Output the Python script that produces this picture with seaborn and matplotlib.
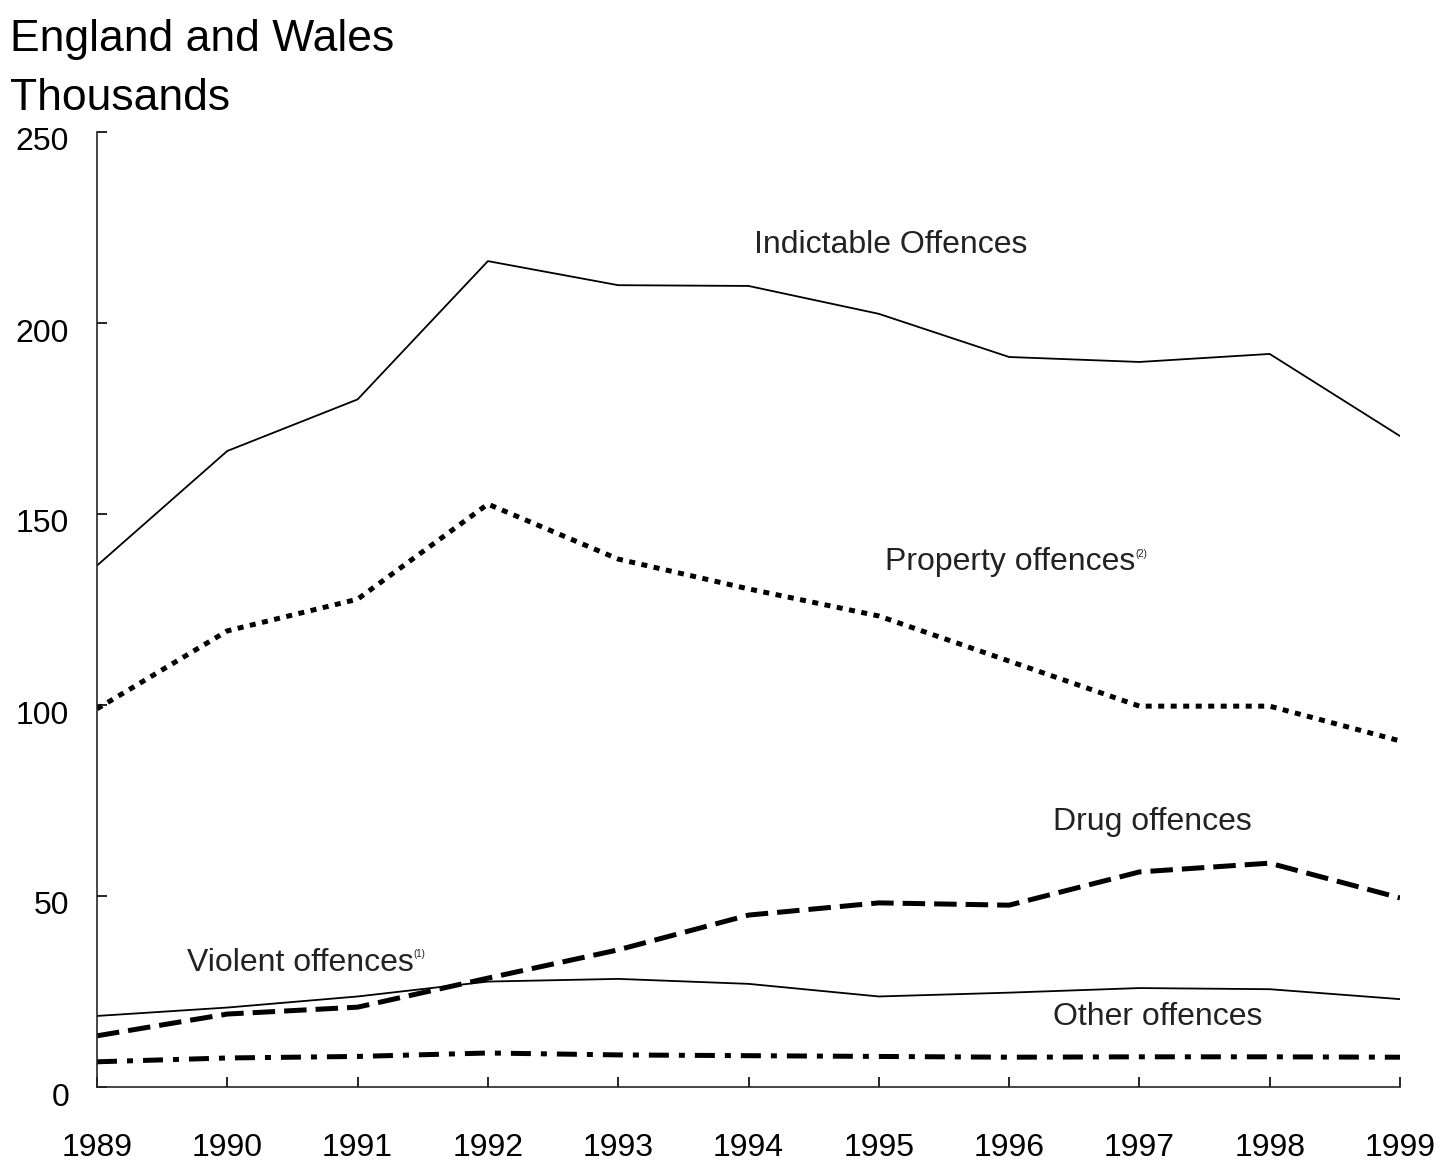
import numpy as np
import pandas as pd
import matplotlib
matplotlib.use("Agg")
import matplotlib.pyplot as plt
import matplotlib.transforms as mtransforms
import seaborn as sns

# values (thousands)
years = [1989, 1990, 1991, 1992, 1993, 1994, 1995, 1996, 1997, 1998, 1999]
indictable = [136.5, 166.5, 180.0, 216.2, 209.9, 209.7, 202.4, 191.1, 189.8, 191.9, 170.4]
property_off = [99.0, 119.4, 127.7, 152.6, 138.2, 130.4, 123.3, 111.5, 99.7, 99.7, 90.6]
drug = [13.4, 19.1, 20.9, 28.5, 35.9, 45.0, 48.2, 47.6, 56.3, 58.6, 49.5]
violent = [18.6, 20.8, 23.7, 27.6, 28.3, 27.0, 23.7, 24.7, 25.9, 25.6, 23.0]
other = [6.6, 7.6, 8.0, 8.9, 8.4, 8.2, 8.0, 7.8, 7.9, 7.9, 7.8]

y_ticks = [0, 50, 100, 150, 200, 250]

sns.set_style("ticks")
plt.rcParams["font.family"] = ["Liberation Sans Narrow", "Liberation Sans", "DejaVu Sans"]
plt.rcParams["text.color"] = "black"

fig = plt.figure(figsize=(14.48, 11.66), dpi=100)
ax = fig.add_axes([97 / 1448, 79 / 1166, 1303 / 1448, 955 / 1166])

df = pd.DataFrame({"year": years, "indictable": indictable, "property": property_off,
                   "drug": drug, "violent": violent, "other": other})

sns.lineplot(data=df, x="year", y="indictable", ax=ax, color="black", lw=1.3)
sns.lineplot(data=df, x="year", y="property", ax=ax, color="black", lw=3.6,
             linestyle=(0, (1.2, 1.3)))
sns.lineplot(data=df, x="year", y="drug", ax=ax, color="black", lw=3.6,
             linestyle=(0, (4.5, 1.8)))
sns.lineplot(data=df, x="year", y="violent", ax=ax, color="black", lw=1.3)
sns.lineplot(data=df, x="year", y="other", ax=ax, color="black", lw=3.6,
             linestyle=(0, (4.0, 2.0, 1.2, 2.0)))

ax.set_xlim(1989, 1999)
ax.set_ylim(0, 250)
ax.set_xticks(years)
ax.set_xticklabels([str(y) for y in years])
ax.set_yticks(y_ticks)
ax.set_yticklabels([str(v) for v in y_ticks])
ax.set_xlabel("")
ax.set_ylabel("")
ax.spines["top"].set_visible(False)
ax.spines["right"].set_visible(False)
for s in ["left", "bottom"]:
    ax.spines[s].set_linewidth(1.2)
ax.tick_params(axis="both", direction="in", length=7, width=1.2, labelsize=23, colors="black")
ax.tick_params(axis="y", pad=20)
ax.tick_params(axis="x", pad=33)

# y labels sit a little below their ticks in the original
shift = mtransforms.ScaledTranslation(0, -7 / 100, fig.dpi_scale_trans)
for lbl in ax.get_yticklabels():
    lbl.set_transform(lbl.get_transform() + shift)

# series labels
lab_kw = dict(fontsize=23, color="#222222")
ax.text(1995.09, 220.4, "Indictable Offences", ha="center", va="center", **lab_kw)
t_prop = ax.text(1995.05, 137.4, "Property offences", ha="left", va="center", **lab_kw)
ax.text(1997.1, 69.4, "Drug offences", ha="center", va="center", **lab_kw)
t_viol = ax.text(1989.69, 32.5, "Violent offences", ha="left", va="center", **lab_kw)
ax.text(1997.14, 18.3, "Other offences", ha="center", va="center", **lab_kw)

ax.annotate("(2)", xy=(1.0, 0.95), xycoords=t_prop, ha="left", va="top", fontsize=7, color="#222222")
ax.annotate("(1)", xy=(1.0, 0.95), xycoords=t_viol, ha="left", va="top", fontsize=7, color="#222222")

fig.text(10 / 1448, 1 - 51 / 1166, "England and Wales", fontsize=32, ha="left", va="baseline", color="black")
fig.text(10 / 1448, 1 - 110 / 1166, "Thousands", fontsize=32, ha="left", va="baseline", color="black")

fig.savefig("out.png", dpi=100)
